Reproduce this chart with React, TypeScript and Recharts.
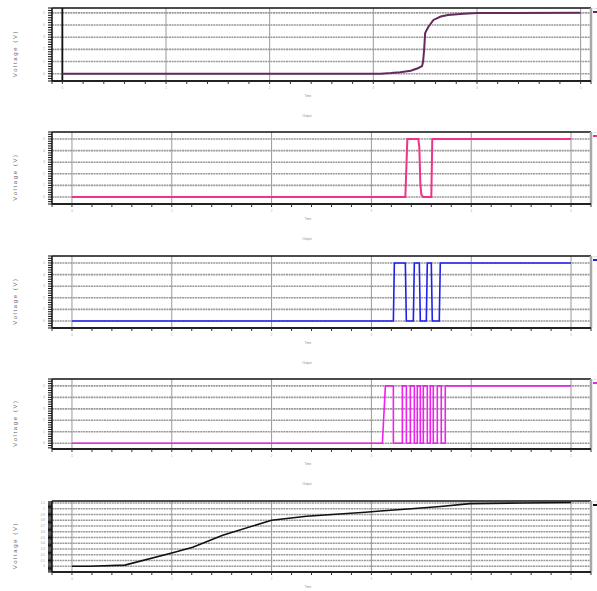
import React from 'react';
import { LineChart, Line, XAxis, YAxis, CartesianGrid, ReferenceLine, Legend } from 'recharts';

// ---------- data ----------
const p1Time = [0, 3.07, 3.17, 3.26, 3.36, 3.43, 3.47, 3.48, 3.49, 3.5, 3.53, 3.58, 3.65, 3.72, 3.87, 4.0, 5.0];
const p1Volt = [0, 0, 0.05, 0.12, 0.25, 0.45, 0.62, 1.0, 1.95, 3.35, 3.84, 4.42, 4.7, 4.83, 4.92, 4.98, 5.0];

const p2Time = [0, 3.34, 3.36, 3.47, 3.48, 3.49, 3.5, 3.52, 3.6, 3.61, 5.0];
const p2Volt = [0, 0, 5, 5, 4.3, 1.2, 0.2, 0, 0, 5, 5];

const p3Time = [0, 3.22, 3.23, 3.34, 3.35, 3.42, 3.43, 3.48, 3.49, 3.55, 3.56, 3.6, 3.61, 3.68, 3.69, 5.0];
const p3Volt = [0, 0, 5, 5, 0, 0, 5, 5, 0, 0, 5, 5, 0, 0, 5, 5];

const p4Time = [0, 3.11, 3.14, 3.22, 3.22, 3.31, 3.31, 3.35, 3.35, 3.39, 3.39, 3.43, 3.43, 3.46, 3.46, 3.49, 3.49, 3.52, 3.52, 3.56, 3.56, 3.59, 3.59, 3.62, 3.62, 3.66, 3.66, 3.7, 3.7, 3.74, 3.74, 5.0];
const p4Volt = [0, 0, 5, 5, 0, 0, 5, 5, 0, 0, 5, 5, 0, 0, 5, 5, 0, 0, 5, 5, 0, 0, 5, 5, 0, 0, 5, 5, 0, 0, 5, 5];

const p5Time = [0, 0.18, 0.53, 1.0, 1.21, 1.51, 2.0, 2.35, 2.94, 3.09, 3.4, 3.69, 3.99, 4.5, 5.0];
const p5Volt = [0, 0, 0.02, 0.23, 0.33, 0.54, 0.8, 0.87, 0.94, 0.96, 1.0, 1.04, 1.09, 1.1, 1.11];

const seriesNames = ['V(in)', 'V(a)', 'V(b)', 'V(c)', 'V(out)'];
const xAxisTitle = 'Time';
const subTitle = 'Output';
const yAxisTitle = 'Voltage (V)';
const majorX = [0, 1, 2, 3, 4, 5];
const majorY = [0, 1, 2, 3, 4, 5];
const majorY5 = [0, 0.1, 0.2, 0.3, 0.4, 0.5, 0.6, 0.7, 0.8, 0.9, 1.0, 1.1];

// ---------- helpers ----------
const zip = (t: number[], v: number[]) => t.map((tt, i) => ({ t: tt, v: v[i] }));
const range = (a: number, b: number, s: number) => {
  const out: number[] = [];
  const n = Math.round((b - a) / s);
  for (let i = 0; i <= n; i++) out.push(Math.round((a + i * s) * 1000) / 1000);
  return out;
};
const isIn = (v: number, list: number[]) => list.some((m) => Math.abs(m - v) < 1e-6);

const FONT = '"Liberation Sans", Arial, sans-serif';

const XTick = (props: any) => {
  const { x, y, payload } = props;
  if (!isIn(payload.value, majorX)) return <g />;
  return (
    <text x={x} y={y + 3} fontSize={3} fill="#aaa" textAnchor="middle" fontFamily={FONT}>
      {payload.value}
    </text>
  );
};

const makeYTick = (majors: number[]) => (props: any) => {
  const { x, y, payload } = props;
  if (!isIn(payload.value, majors)) return <g />;
  return (
    <text x={x - 1} y={y + 1} fontSize={3} fill="#999" textAnchor="end" fontFamily={FONT}>
      {payload.value}
    </text>
  );
};

const YLabel = (props: any) => {
  const { cy } = props;
  return (
    <text
      x={15}
      y={cy}
      transform={`rotate(-90 15 ${cy})`}
      textAnchor="middle"
      dominantBaseline="central"
      fontSize={6}
      letterSpacing={1.6}
      fill="#666"
      fontFamily={FONT}
    >
      {yAxisTitle}
    </text>
  );
};

type PanelProps = {
  top: number;
  height: number;
  data: { t: number; v: number }[];
  xDomain: [number, number];
  yDomain: [number, number];
  yTicks: number[];
  yMajor: number[];
  color: string;
  strokeWidth: number;
  name: string;
  zeroLine?: boolean;
  showSub?: boolean;
};

const PAD_TOP = 8;
const X_AXIS_H = 12;

function Panel(p: PanelProps) {
  const chartTop = p.top - PAD_TOP;
  const chartH = p.height + PAD_TOP + X_AXIS_H;
  const xTicks = [p.xDomain[0], ...range(0, 5, 0.2), p.xDomain[1]].filter((v, i, a) => a.indexOf(v) === i);
  const cy = PAD_TOP + p.height / 2 + 9;
  const YT = makeYTick(p.yMajor);
  return (
    <div style={{ position: 'absolute', left: 0, top: chartTop, width: 597, height: chartH }}>
      <LineChart
        width={597}
        height={chartH}
        data={p.data}
        margin={{ top: PAD_TOP, right: 6, left: 0, bottom: 0 }}
      >
        <CartesianGrid
          horizontal={true}
          vertical={false}
          horizontalValues={p.yMajor}
          stroke="#9a9a9a"
          strokeWidth={1.6}
          strokeDasharray="2 0.6"
        />
        <CartesianGrid
          horizontal={false}
          vertical={true}
          verticalValues={majorX}
          stroke="#9a9a9a"
          strokeWidth={1}
        />
        <XAxis
          type="number"
          dataKey="t"
          domain={p.xDomain}
          ticks={xTicks}
          interval={0}
          allowDataOverflow
          height={X_AXIS_H}
          axisLine={{ stroke: '#222', strokeWidth: 2 }}
          tickLine={{ stroke: '#333', strokeWidth: 1 }}
          tickSize={3}
          tick={<XTick />}
        />
        <YAxis
          type="number"
          domain={p.yDomain}
          ticks={p.yTicks}
          interval={0}
          allowDataOverflow
          width={52}
          axisLine={{ stroke: '#111', strokeWidth: 1.5 }}
          tickLine={{ stroke: '#111', strokeWidth: 1 }}
          tickSize={4}
          tick={<YT />}
          label={<YLabel cy={cy} />}
        />
        <ReferenceLine y={p.yDomain[1]} stroke="#111" strokeWidth={1.6} />
        <ReferenceLine x={p.xDomain[1]} stroke="#a8a8a8" strokeWidth={2.5} />
        {p.zeroLine ? <ReferenceLine x={0} stroke="#111" strokeWidth={1.8} /> : null}
        <Legend
          layout="horizontal"
          verticalAlign="middle"
          align="center"
          wrapperStyle={{ position: 'absolute', left: 592, top: PAD_TOP, width: 6, height: 8, margin: 0, padding: 0 }}
          content={() => (
            <div style={{ position: 'relative', width: 6, height: 8 }}>
              <div style={{ position: 'absolute', left: 1, top: -1, fontSize: 2, color: '#aaa', fontFamily: FONT, whiteSpace: 'nowrap', lineHeight: '3px' }}>
                {p.name}
              </div>
              <div style={{ position: 'absolute', left: 1, top: 3, width: 5, height: 2, background: p.color }} />
            </div>
          )}
        />
        <Line
          type="linear"
          dataKey="v"
          name={p.name}
          stroke={p.color}
          strokeWidth={p.strokeWidth}
          dot={false}
          activeDot={false}
          isAnimationActive={false}
        />
      </LineChart>
      <div
        style={{
          position: 'absolute',
          left: 0,
          width: 616,
          top: PAD_TOP + p.height + 13,
          textAlign: 'center',
          fontSize: 3,
          color: '#888',
          fontFamily: FONT,
          lineHeight: '4px',
        }}
      >
        {xAxisTitle}
      </div>
      {p.showSub !== false ? (
        <div
          style={{
            position: 'absolute',
            left: 0,
            width: 614,
            top: PAD_TOP + p.height + 33,
            textAlign: 'center',
            fontSize: 3,
            color: '#888',
            fontFamily: FONT,
            lineHeight: '4px',
          }}
        >
          {subTitle}
        </div>
      ) : null}
    </div>
  );
}

export default function App() {
  return (
    <div style={{ position: 'absolute', left: 0, top: 0, width: 597, height: 591, background: '#fff', overflow: 'hidden' }}>
      <Panel
        top={8}
        height={73}
        data={zip(p1Time, p1Volt)}
        xDomain={[-0.1, 5.1]}
        yDomain={[-0.6, 5.4]}
        yTicks={range(-0.6, 5.4, 0.2)}
        yMajor={majorY}
        color="#642a5e"
        strokeWidth={2}
        name={seriesNames[0]}
        zeroLine
      />
      <Panel
        top={132}
        height={72}
        data={zip(p2Time, p2Volt)}
        xDomain={[-0.2, 5.2]}
        yDomain={[-0.6, 5.6]}
        yTicks={range(-0.6, 5.6, 0.2)}
        yMajor={majorY}
        color="#f0338a"
        strokeWidth={2}
        name={seriesNames[1]}
      />
      <Panel
        top={256}
        height={72}
        data={zip(p3Time, p3Volt)}
        xDomain={[-0.2, 5.2]}
        yDomain={[-0.6, 5.6]}
        yTicks={range(-0.6, 5.6, 0.2)}
        yMajor={majorY}
        color="#2020ee"
        strokeWidth={1.6}
        name={seriesNames[2]}
      />
      <Panel
        top={379}
        height={70}
        data={zip(p4Time, p4Volt)}
        xDomain={[-0.2, 5.2]}
        yDomain={[-0.5, 5.6]}
        yTicks={range(-0.4, 5.6, 0.2)}
        yMajor={majorY}
        color="#f020f0"
        strokeWidth={1.6}
        name={seriesNames[3]}
      />
      <Panel
        top={501}
        height={71}
        data={zip(p5Time, p5Volt)}
        xDomain={[-0.2, 5.2]}
        yDomain={[-0.1, 1.135]}
        yTicks={range(-0.1, 1.12, 0.02)}
        yMajor={majorY5}
        color="#111111"
        strokeWidth={1.6}
        name={seriesNames[4]}
        showSub={false}
      />
    </div>
  );
}
